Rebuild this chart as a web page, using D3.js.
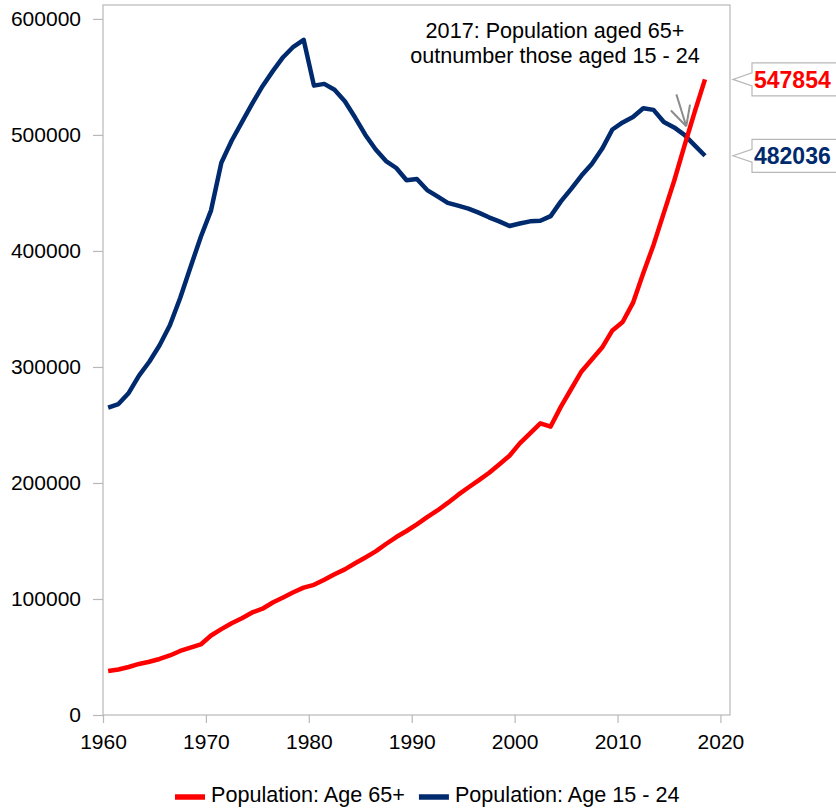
<!DOCTYPE html>
<html>
<head>
<meta charset="utf-8">
<script src="https://cdn.jsdelivr.net/npm/d3@7"></script>
<style>
  body { margin: 0; background: #fff; }
  svg { display: block; font-family: "Liberation Sans", Arial, sans-serif; }
</style>
</head>
<body>
<svg id="chart" width="836" height="808"></svg>
<script>
// Population by age group, yearly (mid-year values)
const years = [1960, 1961, 1962, 1963, 1964, 1965, 1966, 1967, 1968, 1969,
  1970, 1971, 1972, 1973, 1974, 1975, 1976, 1977, 1978, 1979,
  1980, 1981, 1982, 1983, 1984, 1985, 1986, 1987, 1988, 1989,
  1990, 1991, 1992, 1993, 1994, 1995, 1996, 1997, 1998, 1999,
  2000, 2001, 2002, 2003, 2004, 2005, 2006, 2007, 2008, 2009,
  2010, 2011, 2012, 2013, 2014, 2015, 2016, 2017, 2018];

const age65 = [37900, 39200, 41400, 44000, 45900, 48300, 51300, 55200, 58000, 60800,
  68500, 74000, 79100, 83400, 88400, 91600, 97000, 101300, 105800, 109800,
  112200, 116600, 121300, 125500, 130800, 135800, 141000, 147400, 153400, 158600,
  164400, 170500, 176300, 182800, 189700, 196100, 202200, 208600, 216000, 223500,
  234100, 242800, 251400, 248600, 265800, 281000, 296100, 306400, 316700, 331500,
  338800, 355200, 380800, 405200, 432800, 460300, 490500, 519800, 547854];

const age1524 = [265000, 268000, 277600, 292500, 304500, 318700, 336000, 359500, 386000, 412000,
  435000, 476000, 495000, 511000, 527000, 542000, 555000, 567000, 576000, 582000,
  542500, 544000, 539000, 529000, 515000, 500000, 487500, 477500, 471500, 461000,
  462000, 452500, 447000, 441500, 439000, 436500, 433000, 429000, 425500, 421500,
  423700, 425500, 426000, 430000, 442700, 453500, 465000, 475000, 488000, 504700,
  510800, 515500, 523000, 521600, 511200, 506500, 500000, 491000, 482036];

const xTicks = [1960, 1970, 1980, 1990, 2000, 2010, 2020];
const yTicks = [0, 100000, 200000, 300000, 400000, 500000, 600000];

const seriesNames = ["Population: Age 65+", "Population: Age 15 - 24"];
const seriesColors = ["#ff0000", "#002a6e"];
const noteLines = ["2017: Population aged 65+", "outnumber those aged 15 - 24"];
// arrow pointing at the crossover, in data units [year, population]
const arrowFrom = [2015.72, 535000];
const arrowTo = [2016.68, 507500];

const svg = d3.select("#chart");
const gridColor = "#b8b8b8";
const tickFont = 21;
const textFont = 21.6;
const fontFamily = '"Liberation Sans", Arial, sans-serif';

const x = d3.scaleLinear().domain([1960, 2020.93]).range([103, 730]);
const y = d3.scaleLinear().domain([0, 612000]).range([715, 5]);

// plot frame
svg.append("rect")
  .attr("x", x.range()[0]).attr("y", y.range()[1])
  .attr("width", x.range()[1] - x.range()[0])
  .attr("height", y.range()[0] - y.range()[1])
  .attr("fill", "none").attr("stroke", gridColor).attr("stroke-width", 1.2);

// y axis
const yAxis = svg.append("g")
  .attr("transform", `translate(${x.range()[0]},0)`)
  .call(d3.axisLeft(y).tickValues(yTicks).tickSize(10).tickPadding(12).tickFormat(d3.format("d")));
yAxis.select(".domain").remove();
yAxis.selectAll(".tick line").attr("stroke", gridColor).attr("stroke-width", 1.2);
yAxis.selectAll(".tick text").attr("fill", "#000").style("font-size", tickFont + "px")
  .style("font-family", fontFamily);

// x axis
const xAxis = svg.append("g")
  .attr("transform", `translate(0,${y.range()[0]})`)
  .call(d3.axisBottom(x).tickValues(xTicks).tickSize(8).tickPadding(11).tickFormat(d3.format("d")));
xAxis.select(".domain").remove();
xAxis.selectAll(".tick line").attr("stroke", gridColor).attr("stroke-width", 1.2);
xAxis.selectAll(".tick text").attr("fill", "#000").style("font-size", tickFont + "px")
  .style("font-family", fontFamily);

// series lines (points sit at mid-year)
const line = d3.line()
  .x((d, i) => x(years[i] + 0.5))
  .y(d => y(d));

[[age1524, seriesColors[1]], [age65, seriesColors[0]]].forEach(([vals, color]) => {
  svg.append("path")
    .datum(vals)
    .attr("d", line)
    .attr("fill", "none")
    .attr("stroke", color)
    .attr("stroke-width", 4.5)
    .attr("stroke-linejoin", "round");
});

// annotation text
const note = svg.append("text")
  .attr("x", 555).attr("y", 38)
  .attr("text-anchor", "middle")
  .style("font-size", textFont + "px")
  .attr("fill", "#000");
noteLines.forEach((t, i) => {
  note.append("tspan").attr("x", 555).attr("dy", i === 0 ? 0 : 25).text(t);
});

// arrow
const ax0 = x(arrowFrom[0]), ay0 = y(arrowFrom[1]);
const ax1 = x(arrowTo[0]), ay1 = y(arrowTo[1]);
const back = Math.atan2(ay0 - ay1, ax0 - ax1);
const headLen = 22, headAng = 27 * Math.PI / 180;
const arrow = svg.append("g").attr("stroke", "#8c8c8c").attr("stroke-width", 2).attr("fill", "none");
arrow.append("line").attr("x1", ax0).attr("y1", ay0).attr("x2", ax1).attr("y2", ay1);
[-1, 1].forEach(s => {
  arrow.append("line")
    .attr("x1", ax1 + headLen * Math.cos(back + s * headAng))
    .attr("y1", ay1 + headLen * Math.sin(back + s * headAng))
    .attr("x2", ax1).attr("y2", ay1);
});

// end-value callouts
function callout(value, color) {
  const cy = y(value);
  const tip = x.range()[1] + 3, left = tip + 19, right = 845;
  const top = cy - 16.5, bottom = cy + 16.5, half = 6.5;
  svg.append("path")
    .attr("d", `M${left},${top}L${right},${top}L${right},${bottom}L${left},${bottom}` +
               `L${left},${cy + half}L${tip},${cy}L${left},${cy - half}Z`)
    .attr("fill", "#fff").attr("stroke", gridColor).attr("stroke-width", 1.2);
  svg.append("text")
    .attr("x", left + 2).attr("y", cy)
    .attr("dy", "0.36em")
    .attr("fill", color)
    .style("font-size", "23px").style("font-weight", "bold")
    .text(value);
}
callout(age65[age65.length - 1], seriesColors[0]);
callout(age1524[age1524.length - 1], seriesColors[1]);

// legend
const legend = svg.append("g");
let lx = 175;
seriesNames.forEach((name, i) => {
  legend.append("line")
    .attr("x1", lx).attr("x2", lx + 30)
    .attr("y1", 797).attr("y2", 797)
    .attr("stroke", seriesColors[i]).attr("stroke-width", 5.5);
  const t = legend.append("text")
    .attr("x", lx + 36).attr("y", 802)
    .style("font-size", textFont + "px")
    .attr("fill", "#000")
    .text(name);
  lx = lx + 36 + t.node().getComputedTextLength() + 14;
});
</script>
</body>
</html>
